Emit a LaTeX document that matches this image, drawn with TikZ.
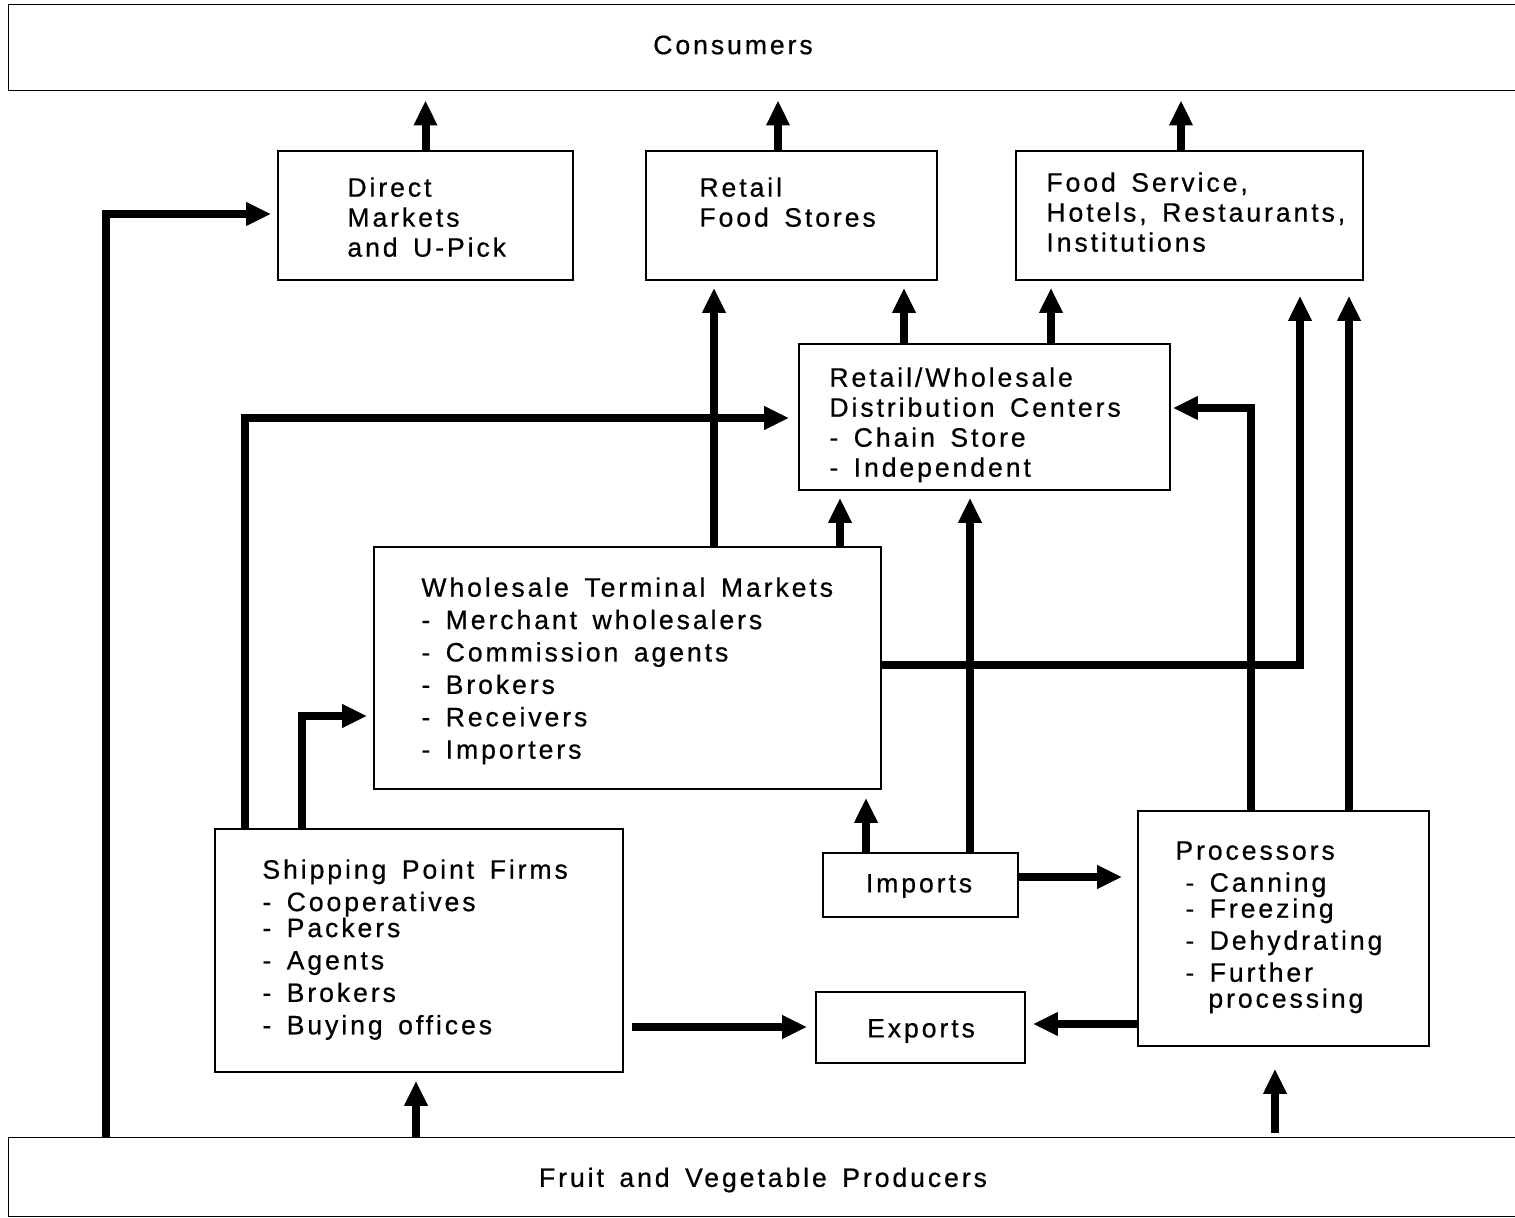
\documentclass[tikz,border=0pt]{standalone}
\usepackage{fontspec}
\setmainfont[LetterSpace=11,WordSpace=1.5,FakeBold=0.6]{Liberation Sans}
\usetikzlibrary{arrows.meta,fit}
\begin{document}
\begin{tikzpicture}[x=0.5pt,y=-0.5pt,
  box/.style={draw, line width=0.8pt, inner sep=0pt, fit={#1}},
  openbox/.style={draw=none, inner sep=0pt, fit={#1}},
  edge/.style={line width=0.8pt},
  txt/.style={font=\fontsize{13.3}{15}\selectfont, inner sep=0pt, align=left, anchor=north west},
  ctxt/.style={font=\fontsize{13.3}{15}\selectfont, inner sep=0pt, anchor=center},
  arr/.style={line width=4pt, -{Triangle[width=11pt,length=12.5pt]}}]
\useasboundingbox (0,0) rectangle (1515,1218);
\fill[white] (0,0) rectangle (1515,1218);

% boxes
\node[openbox={(9,5) (1515,90)}] (cons) {};
\draw[edge] (cons.north east) -- (cons.north west) -- (cons.south west) -- (cons.south east);
\node[openbox={(9,1138) (1515,1216)}] (prod) {};
\draw[edge] (prod.north east) -- (prod.north west) -- (prod.south west) -- (prod.south east);
\node[box={(278,151) (573,280)}] (direct) {};
\node[box={(646,151) (937,280)}] (retail) {};
\node[box={(1016,151) (1363,280)}] (food) {};
\node[box={(799,344) (1170,490)}] (dc) {};
\node[box={(374,547) (881,789)}] (wtm) {};
\node[box={(215,829) (623,1072)}] (ship) {};
\node[box={(823,853) (1018,917)}] (imp) {};
\node[box={(816,992) (1025,1063)}] (exp) {};
\node[box={(1138,811) (1429,1046)}] (proc) {};

% texts
\node[ctxt] (consT) at (733,45) {Consumers};
\node[ctxt] (prodT) at (763,1180) {Fruit and Vegetable Producers};
\node[txt] (directT) at (347,177) {Direct\\Markets\\and U-Pick};
\node[txt] (retailT) at (699,177) {Retail\\Food Stores};
\node[txt] (foodT) at (1046,172) {Food Service,\\Hotels, Restaurants,\\Institutions};
\node[txt] (dcT) at (829,367) {Retail/Wholesale\\Distribution Centers\\- Chain Store\\- Independent};
\node[txt, font=\fontsize{13.3}{16.2}\selectfont] (wtmT) at (421,577) {Wholesale Terminal Markets\\- Merchant wholesalers\\- Commission agents\\- Brokers\\- Receivers\\- Importers};
\node[txt, font=\fontsize{13.3}{16.2}\selectfont] (shipT) at (262,859) {Shipping Point Firms\\- Cooperatives\\[-3.2pt]- Packers\\- Agents\\- Brokers\\- Buying offices};
\node[txt, font=\fontsize{13.3}{16}\selectfont] (procT) at (1175,841) {Processors\\\hspace*{5pt}- Canning\\[-3pt]\hspace*{5pt}- Freezing\\\hspace*{5pt}- Dehydrating\\\hspace*{5pt}- Further\\[-3pt]\hspace*{16.5pt}processing};
\node[ctxt] (impT) at (919,886) {Imports};
\node[ctxt] (expT) at (921,1031) {Exports};

% helper coordinates
\coordinate (c778) at (778,0);
\coordinate (c1181) at (1181,0);
\coordinate (c106) at (106,214);
\coordinate (c245) at (245,418);
\coordinate (c302) at (302,716);
\coordinate (c714) at (714,0);
\coordinate (c904) at (904,0);
\coordinate (c1051) at (1051,0);
\coordinate (c840) at (840,0);
\coordinate (c1300) at (1300,665);
\coordinate (c1349) at (1349,0);
\coordinate (c1251) at (1251,408);
\coordinate (c970) at (970,0);
\coordinate (c866) at (866,0);
\coordinate (r877) at (0,877);
\coordinate (r1027) at (0,1027);
\coordinate (r1024) at (0,1024);
\coordinate (c416) at (416,0);
\coordinate (c1275) at (1275,0);

% connectors
\draw[arr, shorten >=5pt] (direct.north) -- (direct.north |- cons.south);
\draw[arr, shorten >=5pt] (retail.north -| c778) -- (cons.south -| c778);
\draw[arr, shorten >=5pt] (food.north -| c1181) -- (cons.south -| c1181);
\draw[arr, shorten >=3pt] (prod.north -| c106) -- (c106) -- (direct.west |- c106);
\draw[arr, shorten >=4.5pt] (ship.north -| c245) -- (c245) -- (dc.west |- c245);
\draw[arr, shorten >=3pt] (ship.north -| c302) -- (c302) -- (wtm.west |- c302);
\draw[arr, shorten >=3.5pt] (wtm.north -| c714) -- (retail.south -| c714);
\draw[arr, shorten >=3.5pt] (dc.north -| c904) -- (retail.south -| c904);
\draw[arr, shorten >=3.5pt] (dc.north -| c1051) -- (food.south -| c1051);
\draw[arr, shorten >=3.5pt] (wtm.north -| c840) -- (dc.south -| c840);
\draw[arr, shorten >=7.5pt] (wtm.east |- c1300) -- (c1300) -- (food.south -| c1300);
\draw[arr, shorten >=7.5pt] (proc.north -| c1349) -- (food.south -| c1349);
\draw[arr, shorten >=1pt] (proc.north -| c1251) -- (c1251) -- (dc.east |- c1251);
\draw[arr, shorten >=3.5pt] (imp.north -| c970) -- (dc.south -| c970);
\draw[arr, shorten >=4pt] (imp.north -| c866) -- (wtm.south -| c866);
\draw[arr, shorten >=7.5pt] (imp.east |- r877) -- (proc.west |- r877);
\draw[arr, shorten <=4pt, shorten >=4pt] (ship.east |- r1027) -- (exp.west |- r1027);
\draw[arr, shorten >=3.5pt] (proc.west |- r1024) -- (exp.east |- r1024);
\draw[arr, shorten >=4pt] (prod.north -| c416) -- (ship.south -| c416);
\draw[arr, shorten <=2.5pt, shorten >=11pt] (prod.north -| c1275) -- (proc.south -| c1275);
\end{tikzpicture}
\end{document}
